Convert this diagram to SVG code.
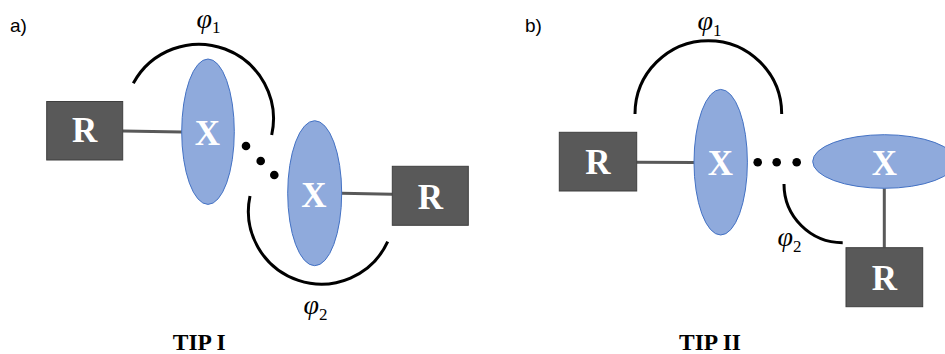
<svg xmlns="http://www.w3.org/2000/svg" width="945" height="354" viewBox="0 0 945 354">
<style>
.box{fill:#595959;stroke:#3f3f3f;stroke-width:1}
.ell{fill:#8FAADC;stroke:#4472C4;stroke-width:1}
.lbl{font-family:"Liberation Serif",serif;font-weight:bold;font-size:35px;fill:#ffffff;text-anchor:middle}
.link{stroke:#595959;stroke-width:3;fill:none}
.arc{stroke:#000000;stroke-width:3;fill:none}
.dot{fill:#000000}
.phi{font-family:"Liberation Serif",serif;font-style:italic;font-size:28px;fill:#000000}
.sub{font-style:normal;font-size:17px}
.panel{font-family:"Liberation Sans",sans-serif;font-size:19px;fill:#000000}
.title{font-family:"Liberation Serif",serif;font-weight:bold;font-size:23.5px;fill:#000000;text-anchor:middle}
</style>
<rect width="945" height="354" fill="#ffffff"/>
<g id="connectors">
<line class="link" x1="123" y1="131" x2="182" y2="132"/>
<line class="link" x1="341.5" y1="193.3" x2="392.3" y2="194.3"/>
<line class="link" x1="636.7" y1="162.3" x2="694" y2="162.5"/>
<line class="link" x1="884.3" y1="188.3" x2="884.3" y2="247.7"/>
</g>
<g id="angles">
<path class="arc" d="M133.3,83.3 A74.6,74.6 0 0 1 271.7,135"/>
<path class="arc" d="M250,196 A73,73 0 0 0 387.7,241.7"/>
<path class="arc" d="M635,114 A73.3,73.3 0 0 1 781.7,114"/>
<path class="arc" d="M784,184 A58.7,58.7 0 0 0 842.7,242.7"/>
</g>
<g id="dots">
<circle class="dot" cx="246" cy="146" r="4.3"/>
<circle class="dot" cx="260.7" cy="161" r="4.3"/>
<circle class="dot" cx="274.3" cy="175" r="4.3"/>
<circle class="dot" cx="757.7" cy="162.3" r="4.3"/>
<circle class="dot" cx="776.7" cy="162.3" r="4.3"/>
<circle class="dot" cx="796.7" cy="162.3" r="4.3"/>
</g>
<g id="a-R1"><rect class="box" x="46.7" y="101.5" width="76" height="58.5"/><text class="lbl" x="84.7" y="142.3">R</text></g>
<g id="a-X1"><ellipse class="ell" cx="208" cy="131.7" rx="26.3" ry="72.7"/><text class="lbl" x="207.5" y="145">X</text></g>
<g id="a-X2"><ellipse class="ell" cx="314.7" cy="193.2" rx="27" ry="72.5"/><text class="lbl" x="314" y="206.7">X</text></g>
<g id="a-R2"><rect class="box" x="392.3" y="166.3" width="76" height="59"/><text class="lbl" x="430.3" y="209">R</text></g>
<g id="b-R1"><rect class="box" x="559.3" y="132.3" width="77.4" height="58.7"/><text class="lbl" x="598" y="174.3">R</text></g>
<g id="b-X1"><ellipse class="ell" cx="720.7" cy="162.2" rx="26.7" ry="72.8"/><text class="lbl" x="720.5" y="175">X</text></g>
<g id="b-X2"><ellipse class="ell" cx="884.3" cy="161.5" rx="71.6" ry="26.8"/><text class="lbl" x="884.3" y="174.5">X</text></g>
<g id="b-R2"><rect class="box" x="846" y="247.7" width="76.7" height="59"/><text class="lbl" x="884.3" y="290">R</text></g>
<g id="labels">
<text class="panel" x="10" y="31.5">a)</text>
<text class="panel" x="525" y="31.5">b)</text>
<text class="phi" x="196.5" y="27.5">φ<tspan class="sub" dy="5.8">1</tspan></text>
<text class="phi" x="303.5" y="314">φ<tspan class="sub" dy="6">2</tspan></text>
<text class="phi" x="697.5" y="30">φ<tspan class="sub" dy="6">1</tspan></text>
<text class="phi" x="777.5" y="245.5">φ<tspan class="sub" dy="6.2">2</tspan></text>
<text class="title" x="199.2" y="350">TIP I</text>
<text class="title" x="710" y="350">TIP II</text>
</g>
</svg>
